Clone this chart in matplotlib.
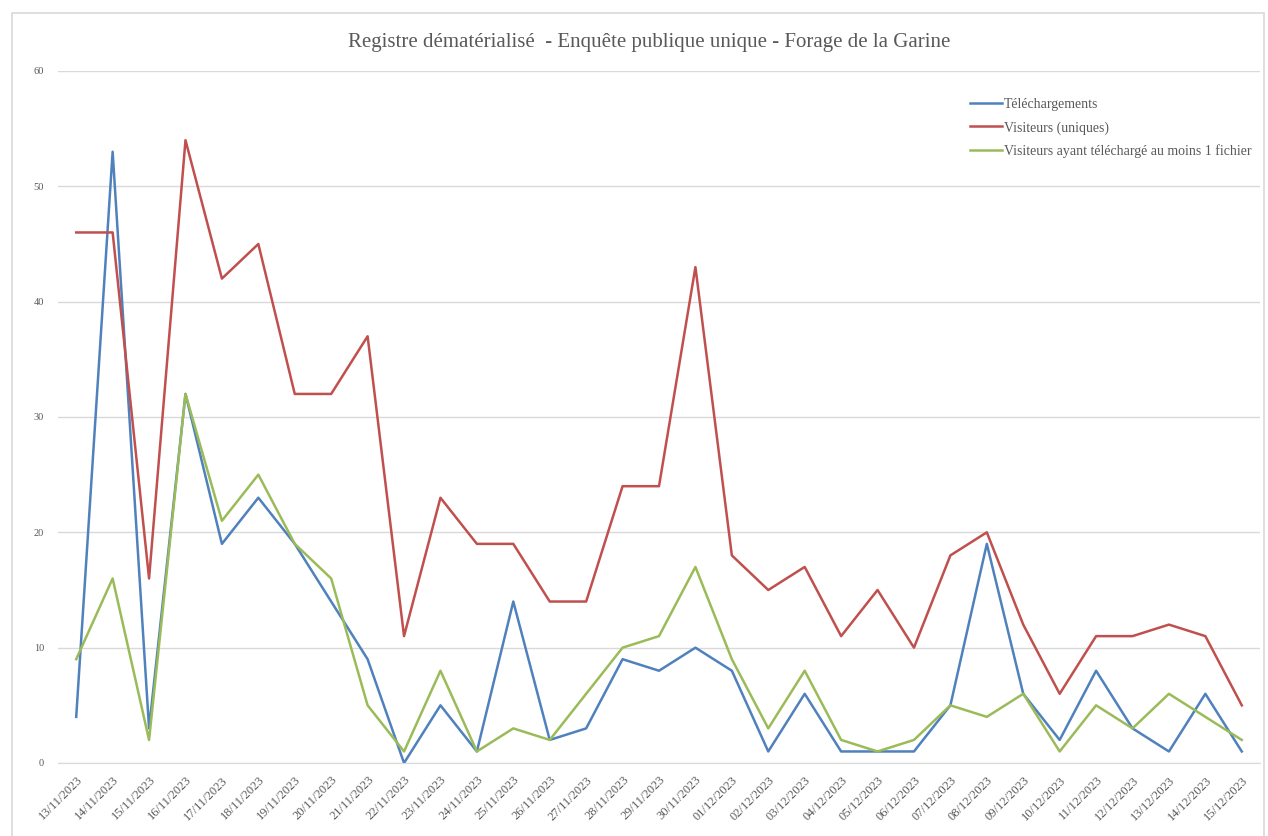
import matplotlib
matplotlib.use("Agg")
import matplotlib.pyplot as plt
from matplotlib.patches import Rectangle

plt.rcParams["font.family"] = ["Liberation Serif", "DejaVu Serif"]

dates = ["13/11/2023", "14/11/2023", "15/11/2023", "16/11/2023", "17/11/2023",
         "18/11/2023", "19/11/2023", "20/11/2023", "21/11/2023", "22/11/2023",
         "23/11/2023", "24/11/2023", "25/11/2023", "26/11/2023", "27/11/2023",
         "28/11/2023", "29/11/2023", "30/11/2023", "01/12/2023", "02/12/2023",
         "03/12/2023", "04/12/2023", "05/12/2023", "06/12/2023", "07/12/2023",
         "08/12/2023", "09/12/2023", "10/12/2023", "11/12/2023", "12/12/2023",
         "13/12/2023", "14/12/2023", "15/12/2023"]

telechargements = [4, 53, 3, 32, 19, 23, 19, 14, 9, 0, 5, 1, 14, 2, 3, 9, 8,
                   10, 8, 1, 6, 1, 1, 1, 5, 19, 6, 2, 8, 3, 1, 6, 1]
visiteurs = [46, 46, 16, 54, 42, 45, 32, 32, 37, 11, 23, 19, 19, 14, 14, 24, 24,
             43, 18, 15, 17, 11, 15, 10, 18, 20, 12, 6, 11, 11, 12, 11, 5]
visiteurs_dl = [9, 16, 2, 32, 21, 25, 19, 16, 5, 1, 8, 1, 3, 2, 6, 10, 11,
                17, 9, 3, 8, 2, 1, 2, 5, 4, 6, 1, 5, 3, 6, 4, 2]

labels = ["Téléchargements", "Visiteurs (uniques)",
          "Visiteurs ayant téléchargé au moins 1 fichier"]
couleurs = ["#4F81BD", "#C0504D", "#9BBB59"]

fig = plt.figure(figsize=(12.68, 8.36), dpi=100)
ax = fig.add_axes([58 / 1268, 1 - 763 / 836, 1202 / 1268, 692 / 836])

# cadre gris autour du graphique
fig.patches.append(Rectangle((12 / 1268, -0.01), 1252 / 1268, 1 - 13 / 836 + 0.01,
                             transform=fig.transFigure, fill=False,
                             edgecolor="#D9D9D9", linewidth=1.2))

x = range(len(dates))
for serie, lab, c in zip([telechargements, visiteurs, visiteurs_dl], labels, couleurs):
    ax.plot(x, serie, color=c, linewidth=1.8, label=lab)

ax.set_xlim(-0.5, len(dates) - 0.5)
ax.set_ylim(0, 60)
ax.set_yticks(range(0, 61, 10))
ax.set_xticks(list(x))
ax.set_xticklabels(dates, rotation=45, ha="right", rotation_mode="anchor",
                   fontsize=9, color="#595959")
ax.tick_params(axis="y", labelsize=7.5, labelcolor="#595959", length=0, pad=10)
ax.tick_params(axis="x", length=0, pad=8)

ax.grid(axis="y", color="#D9D9D9", linewidth=1)
ax.set_axisbelow(True)
for s in ["top", "right", "left"]:
    ax.spines[s].set_visible(False)
ax.spines["bottom"].set_color("#D9D9D9")

fig.text(649 / 1268, 1 - 42 / 836, "Registre dématérialisé  - Enquête publique unique - Forage de la Garine",
         ha="center", va="center", fontsize=15, color="#595959")

leg = ax.legend(loc="upper right", bbox_to_anchor=(1.003, 0.979), frameon=False,
                fontsize=10, handlelength=2.3, handletextpad=0.1, labelspacing=0.72,
                labelcolor="#595959")

plt.savefig("out.png", dpi=100)
